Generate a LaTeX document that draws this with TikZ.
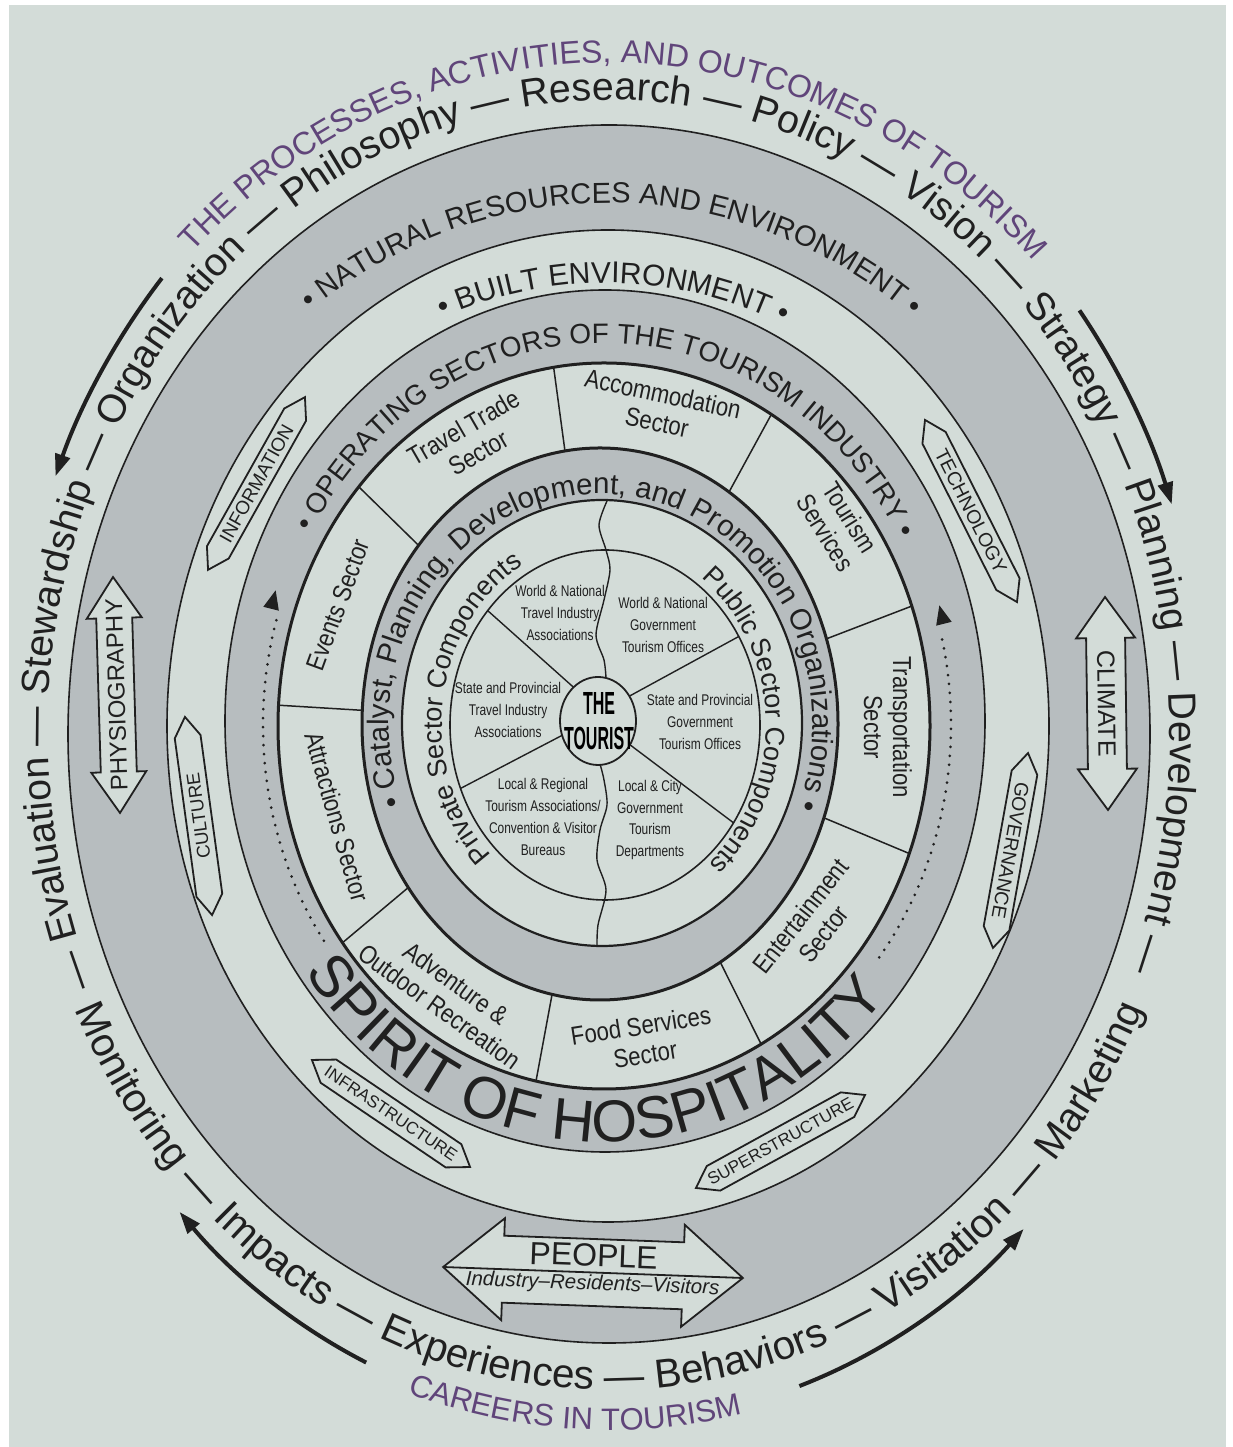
\documentclass[tikz,border=0pt]{standalone}
\usepackage{fontspec}
\usepackage{graphicx}
\setmainfont{Liberation Sans}
\newfontfamily\condfont[FakeStretch=0.85]{Liberation Sans}
\newfontfamily\smallcond[FakeStretch=0.77]{Liberation Sans}
\newfontfamily\tourfont[FakeStretch=0.5]{Liberation Sans}
\usetikzlibrary{decorations.text,arrows.meta}
\definecolor{pagebg}{HTML}{D3DCD8}
\definecolor{band}{HTML}{B7BDBF}
\definecolor{ink}{HTML}{202020}
\definecolor{purp}{HTML}{60457A}
% center, angle, half length, end length, half width
\newcommand{\hexshape}[5]{%
\begin{scope}[shift={#1}, rotate=#2]
\draw[shapeline] (#3,0) -- ({#3-#4},#5) -- ({-#3+#4},#5) -- (-#3,0) -- ({-#3+#4},-#5) -- ({#3-#4},-#5) -- cycle;
\end{scope}}
% center, angle, half length, head length, head half width, shaft half width
\newcommand{\dblarrow}[6]{%
\begin{scope}[shift={#1}, rotate=#2]
\draw[shapeline] (#3,0) -- ({#3-#4},#5) -- ({#3-#4},#6) -- ({-#3+#4},#6) -- ({-#3+#4},#5) -- (-#3,0) -- ({-#3+#4},-#5) -- ({-#3+#4},-#6) -- ({#3-#4},-#6) -- ({#3-#4},-#5) -- cycle;
\end{scope}}
\begin{document}
\begin{tikzpicture}[x=1pt,y=1pt,
  thinline/.style={draw=ink, line width=1.6pt},
  boldline/.style={draw=ink, line width=3pt},
  shapeline/.style={draw=ink, line width=1.8pt, fill=pagebg, line join=miter},
  seclabel/.style={font=\condfont\fontsize{26}{29}\selectfont, text=ink, align=center, inner sep=0pt},
  innerlabel/.style={font=\smallcond\fontsize{15.5}{21.7}\selectfont, text=ink, align=center, inner sep=0pt},
  taglabel/.style={text=ink, inner sep=0pt},
  bigarrow/.style={draw=ink, line width=4pt, -{Triangle[length=22pt,width=15pt]}},
  dotline/.style={draw=ink, line width=3pt, line cap=round, dash pattern=on 0pt off 9pt},
]
\useasboundingbox (0,0) rectangle (1233,1447);
\fill[white] (0,0) rectangle (1233,1447);
\fill[pagebg] (9,0) rectangle (1226,1442);

% ---- bands
\fill[band] (609,713) ellipse [x radius=541, y radius=609];
\fill[pagebg] (608,721) ellipse [x radius=441, y radius=496];
\fill[band] (605,726) ellipse [x radius=380, y radius=431];
\fill[pagebg] (604,721) ellipse [x radius=326, y radius=363];
\begin{scope}
\clip (604,721) ellipse [x radius=326, y radius=363];
\foreach \a in {97.7,61.4,21,-22.7,-63.5,-100.5,-140,176.5,135.6}
  \draw[ink, line width=1.5pt] (602,722) -- ++(\a:400);
\end{scope}
\fill[band] (600,723) ellipse [x radius=238, y radius=276];
\fill[pagebg] (602,724) ellipse [x radius=200, y radius=223];

% spokes
\begin{scope}
\clip (605,722) ellipse [x radius=155, y radius=175];
\draw[ink, line width=1.4pt] (590,745) -- (478,845);
\draw[ink, line width=1.4pt] (615,743) -- (747,815);
\draw[ink, line width=1.4pt] (580,721) -- (448,652);
\draw[ink, line width=1.4pt] (613,715) -- (743,617);
\end{scope}
% wavy divider
\draw[ink, line width=1.4pt] plot[smooth] coordinates {(607,946) (599,922) (606,897) (610,877) (604,847) (596,812) (604,787) (606,769)};
\draw[ink, line width=1.4pt] plot[smooth] coordinates {(600,683) (604,667) (607,642) (600,617) (597,587) (606,557) (598,522) (597,500)};

% ---- outlines
\draw[thinline] (609,713) ellipse [x radius=541, y radius=609];
\draw[thinline] (608,721) ellipse [x radius=441, y radius=496];
\draw[thinline] (605,726) ellipse [x radius=380, y radius=431];
\draw[boldline] (604,721) ellipse [x radius=326, y radius=363];
\draw[boldline] (600,723) ellipse [x radius=238, y radius=276];
\draw[ink, line width=2.2pt] (602,724) ellipse [x radius=200, y radius=223];
\draw[thinline] (605,722) ellipse [x radius=155, y radius=175];
\draw[ink, line width=1.8pt, fill=pagebg] (598,726) ellipse [x radius=38, y radius=44];

% ---- dotted arcs and triangles
\draw[dotline] (607,722) ++(164:344 and 380) arc[start angle=164, end angle=216, x radius=344, y radius=380];
\draw[dotline] (607,722) ++(13:344 and 380) arc[start angle=13, end angle=-38, x radius=344, y radius=380];
\begin{scope}[shift={(273,846)}, rotate=-14]
\fill[ink] (0,11) -- (-8,-8) -- (8,-8) -- cycle;
\end{scope}
\begin{scope}[shift={(942,831)}, rotate=14]
\fill[ink] (0,11) -- (-8,-8) -- (8,-8) -- cycle;
\end{scope}

% ---- curved arrows outside
\draw[bigarrow] (609,713) ++(138.5:597 and 688) arc[start angle=138.5, end angle=158, x radius=597, y radius=688];
\draw[bigarrow] (609,713) ++(38:597 and 688) arc[start angle=38, end angle=19.5, x radius=597, y radius=688];
\draw[bigarrow] (609,713) ++(246:597 and 688) arc[start angle=246, end angle=224, x radius=597, y radius=688];
\draw[bigarrow] (609,713) ++(288.6:597 and 688) arc[start angle=288.6, end angle=314, x radius=597, y radius=688];

% ---- double arrows
\dblarrow{(116.5,752)}{91.7}{118}{41}{27.5}{18}
\node[taglabel, font=\fontsize{24}{24}\selectfont, rotate=91.7] (physio) at (116.5,752) {PHYSIOGRAPHY};
\dblarrow{(1106.5,743.5)}{90.8}{106.5}{41}{29.5}{19.5}
\node[taglabel, font=\fontsize{25}{25}\selectfont, rotate=-89.2] (climate) at (1106.5,743.5) {CLIMATE};
\dblarrow{(593,174.5)}{-2.1}{150}{60}{51}{33.5}
\begin{scope}[shift={(593,174.5)}, rotate=-2.1]
\draw[ink, line width=1.8pt] (-150,0) -- (150,0);
\node[taglabel, font=\fontsize{32}{32}\selectfont, rotate=-2.1] (people) at (0,17) {PEOPLE};
\node[taglabel, font=\itshape\fontsize{20.5}{20}\selectfont, rotate=-2.1] (irv) at (0,-12) {Industry–Residents–Visitors};
\end{scope}

% ---- hexagon tags
\hexshape{(256.5,963.5)}{60.7}{99}{20}{12.5}
\node[taglabel, font=\fontsize{19}{19}\selectfont, rotate=60.7] (info) at (256.5,963.5) {INFORMATION};
\hexshape{(198.5,631)}{97.8}{100}{20}{13}
\node[taglabel, font=\fontsize{18.5}{19}\selectfont, rotate=97.8] (culture) at (198.5,631) {CULTURE};
\hexshape{(971,936)}{-63.2}{102}{20}{13}
\node[taglabel, font=\fontsize{19.5}{19}\selectfont, rotate=-63.2] (tech) at (971,936) {TECHNOLOGY};
\hexshape{(1010.5,596.5)}{-100.2}{99}{20}{13}
\node[taglabel, font=\fontsize{19.5}{19}\selectfont, rotate=-100.2] (gov) at (1010.5,596.5) {GOVERNANCE};
\hexshape{(391,333.5)}{-34.1}{95.5}{20}{14}
\node[taglabel, font=\fontsize{17}{17}\selectfont, rotate=-34.1] (infra) at (391,333.5) {INFRASTRUCTURE};
\hexshape{(780.5,305.5)}{28.8}{96.5}{20}{14}
\node[taglabel, font=\fontsize{17}{17}\selectfont, rotate=28.8] (super) at (780.5,305.5) {SUPERSTRUCTURE};

% ---- sector labels
\node[seclabel, rotate=-12] (acc) at (660,1039) {Accommodation\\Sector};
\node[seclabel, rotate=30] (trav) at (471,1007) {Travel Trade\\Sector};
\node[seclabel, rotate=-58] (tserv) at (838,922) {Tourism\\Services};
\node[seclabel, rotate=-90] (transp) at (888,720) {Transportation\\Sector};
\node[seclabel, rotate=52] (ent) at (812,522) {Entertainment\\Sector};
\node[seclabel, rotate=9] (food) at (643,407) {Food Services\\Sector};
\node[seclabel, rotate=-36] (adv) at (448,452) {Adventure \&\\Outdoor Recreation};
\node[seclabel, rotate=-74] (attr) at (337,630) {Attractions Sector};
\node[seclabel, rotate=70] (events) at (338,842) {Events Sector};

% ---- inner labels
\node[innerlabel] (wnt) at (560,834) {World \& National\\Travel Industry\\Associations};
\node[innerlabel] (wng) at (663,822) {World \& National\\Government\\Tourism Offices};
\node[innerlabel] (spt) at (508,737) {State and Provincial\\Travel Industry\\Associations};
\node[innerlabel] (spg) at (700,725) {State and Provincial\\Government\\Tourism Offices};
\node[innerlabel] (lrt) at (543,630) {Local \& Regional\\Tourism Associations/\\Convention \& Visitor\\Bureaus};
\node[innerlabel] (lcg) at (650,627) {Local \& City\\Government\\Tourism\\Departments};
\node[font=\tourfont\bfseries\fontsize{32}{35}\selectfont, align=center, inner sep=0pt, text=black] (tourist) at (599,726) {THE\\TOURIST};

% ---- curved texts
\path[decorate, decoration={text along path, text align=center, text color=ink,
  text={|\fontsize{39.3}{42}\selectfont|— Evaluation — Stewardship — Organization — Philosophy — Research — Policy — Vision — Strategy — Planning — Development —}}]
  (609,713) ++(230.8:561 and 634) arc[start angle=230.8, end angle=-49.2, x radius=561, y radius=634];
\path[decorate, decoration={text along path, text align=center, text color=ink,
  text={|\fontsize{40.5}{42}\selectfont|Monitoring — Impacts — Experiences — Behaviors — Visitation — Marketing}}]
  (609,713) ++(180:588 and 656) arc[start angle=180, end angle=360, x radius=588, y radius=656];
\path[decorate, decoration={text along path, text align=center, text color=purp,
  text={|\fontsize{32}{34}\selectfont|THE PROCESSES, ACTIVITIES, AND OUTCOMES OF TOURISM}}]
  (609,713) ++(169.5:598 and 671) arc[start angle=169.5, end angle=9.5, x radius=598, y radius=671];
\path[decorate, decoration={text along path, text align=center, text color=purp,
  text={|\fontsize{31}{33}\selectfont|CAREERS IN TOURISM}}]
  (609,713) ++(207:628 and 696) arc[start angle=207, end angle=327, x radius=628, y radius=696];
\path[decorate, decoration={text along path, text align=center, text color=ink,
  text={|\fontsize{29}{31}\selectfont|• NATURAL RESOURCES AND ENVIRONMENT •}}]
  (608,717) ++(159.5:491 and 527) arc[start angle=159.5, end angle=19.5, x radius=491, y radius=527];
\path[decorate, decoration={text along path, text align=center, text color=ink,
  text={|\fontsize{30}{32}\selectfont|• BUILT ENVIRONMENT •}}]
  (606,723) ++(139:420 and 441) arc[start angle=139, end angle=39, x radius=420, y radius=441];
\path[decorate, decoration={text along path, text align=center, text color=ink,
  text={|\fontsize{28}{30}\selectfont|• OPERATING SECTORS OF THE TOURISM INDUSTRY •}}]
  (604,722) ++(174.5:339 and 382) arc[start angle=174.5, end angle=4.5, x radius=339, y radius=382];
\path[decorate, decoration={text along path, text align=center, text color=ink,
  text={|\fontsize{29.5}{31}\selectfont|• Catalyst, Planning, Development, and Promotion Organizations •}}]
  (601,723) ++(219.5:212 and 230) arc[start angle=219.5, end angle=-40.5, x radius=212, y radius=230];
\path[decorate, decoration={text along path, text align=center, text color=ink,
  text={|\fontsize{27}{29}\selectfont|Private Sector Components}}]
  (604,723) ++(247.6:162 and 183) arc[start angle=247.6, end angle=97.6, x radius=162, y radius=183];
\path[decorate, decoration={text along path, text align=center, text color=ink,
  text={|\fontsize{27}{29}\selectfont|Public Sector Components}}]
  (604,723) ++(76.6:162 and 183) arc[start angle=76.6, end angle=-73.4, x radius=162, y radius=183];
\path[decorate, decoration={text along path, text align=center, text color=ink,
  text={|\fontsize{59}{61}\selectfont|SPIRIT OF HOSPITALITY}}]
  (604,722) ++(188:372 and 417) arc[start angle=188, end angle=348, x radius=372, y radius=417];
\end{tikzpicture}
\end{document}
